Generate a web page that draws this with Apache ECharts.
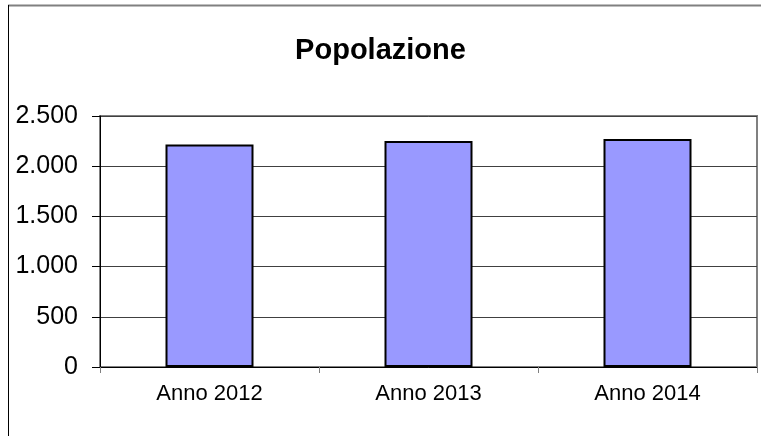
<!DOCTYPE html>
<html>
<head>
<meta charset="utf-8">
<script src="https://cdn.jsdelivr.net/npm/echarts@6/dist/echarts.min.js"></script>
<style>
  html, body { margin: 0; padding: 0; background: #fff; }
  #chart { width: 761px; height: 436px; }
</style>
</head>
<body>
<div id="chart"></div>
<script>
// data
var categories = ['Anno 2012', 'Anno 2013', 'Anno 2014']
var popolazione = [2215, 2250, 2270]
var yTicks = [0, 500, 1000, 1500, 2000, 2500]

function fmtIt(v) {
  return String(v).replace(/\B(?=(\d{3})+(?!\d))/g, '.')
}

var chart = echarts.init(document.getElementById('chart'))

chart.setOption({
  animation: false,
  title: {
    text: 'Popolazione',
    left: 'center',
    top: 31,
    textStyle: {
      fontFamily: 'Liberation Sans, Arial, sans-serif',
      fontSize: 29,
      fontWeight: 'bold',
      color: '#000'
    }
  },
  graphic: [
    { type: 'line', shape: { x1: 8, y1: 5.5, x2: 761, y2: 5.5 }, style: { stroke: '#808080', lineWidth: 2 } },
    { type: 'line', shape: { x1: 8.5, y1: 5, x2: 8.5, y2: 436 }, style: { stroke: '#000', lineWidth: 1 } }
  ],
  grid: {
    left: 100,
    top: 116,
    right: 4,
    bottom: 69,
    show: true,
    borderColor: '#808080',
    borderWidth: 2,
    backgroundColor: '#fff'
  },
  xAxis: {
    type: 'category',
    data: categories,
    axisLine: { lineStyle: { color: '#000', width: 1 } },
    axisTick: { show: true, length: 6, lineStyle: { color: '#808080' } },
    axisLabel: {
      color: '#000',
      fontSize: 22,
      fontFamily: 'Liberation Sans, Arial, sans-serif',
      margin: 16
    }
  },
  yAxis: {
    type: 'value',
    min: yTicks[0],
    max: yTicks[yTicks.length - 1],
    interval: 500,
    axisLine: { show: true, lineStyle: { color: '#000', width: 1 } },
    axisTick: { show: true, length: 8, lineStyle: { color: '#000' } },
    splitLine: { lineStyle: { color: '#404040', width: 1 } },
    axisLabel: {
      color: '#000',
      fontSize: 25,
      fontFamily: 'Liberation Sans, Arial, sans-serif',
      margin: 22,
      formatter: fmtIt
    }
  },
  series: [
    {
      type: 'bar',
      data: popolazione,
      barWidth: 88,
      itemStyle: {
        color: '#9999ff',
        borderColor: '#000',
        borderWidth: 2
      }
    }
  ]
})
</script>
</body>
</html>
